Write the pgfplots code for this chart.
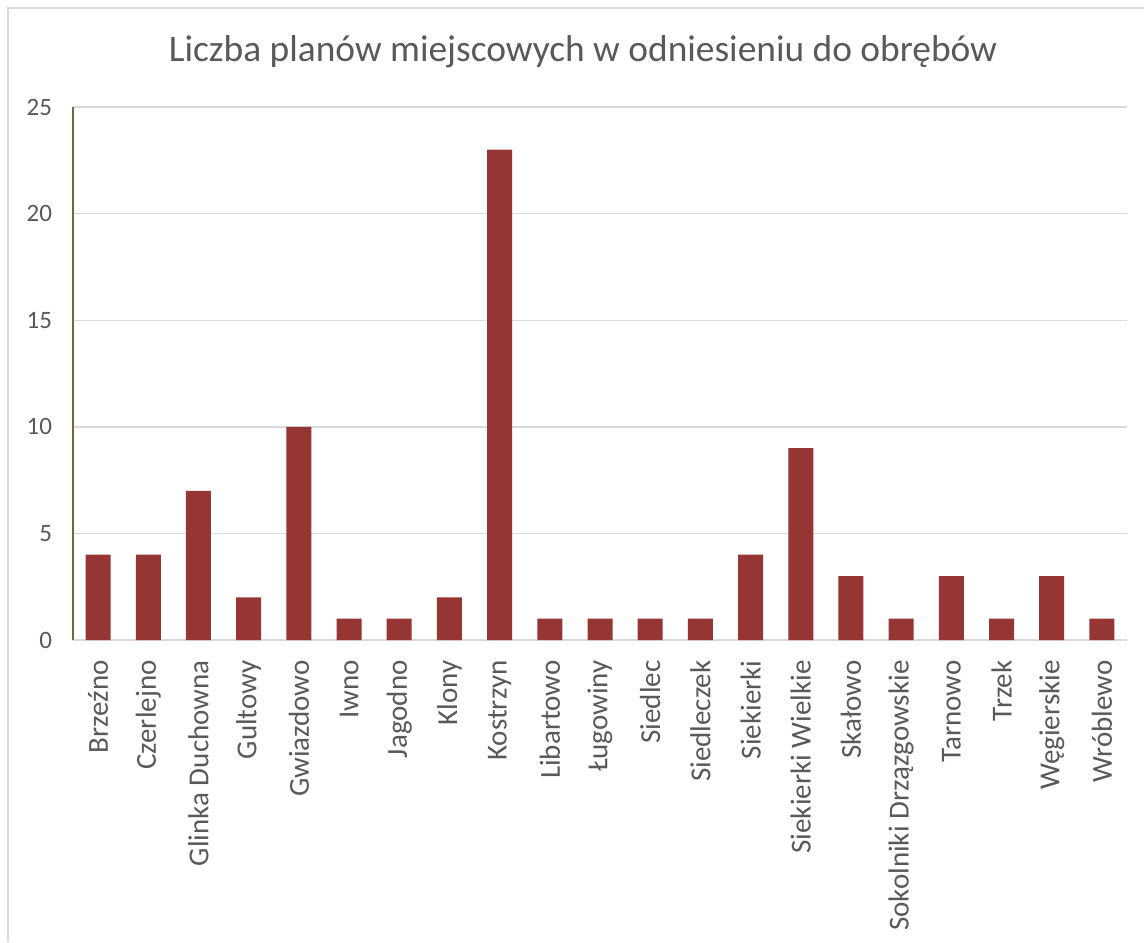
\documentclass[border=0pt]{standalone}
\usepackage{pgfplots}
\pgfplotsset{compat=1.18}
\usepackage{fontspec}
\setmainfont{Carlito}
\definecolor{barred}{RGB}{149,54,52}
\definecolor{txtgray}{RGB}{89,89,89}
\definecolor{gridgray}{RGB}{217,217,217}
\definecolor{yaxcol}{RGB}{118,100,68}
\begin{document}
\begin{tikzpicture}
\path[use as bounding box] (-36.5pt,-151pt) rectangle (535.5pt,320pt);
\draw[gridgray, line width=0.8pt] (-32.5pt,-151pt) -- (-32.5pt,316pt) -- (535.5pt,316pt);
\begin{axis}[
    at={(0pt,0pt)}, anchor=south west,
    scale only axis,
    width=527pt, height=266.5pt,
    xmin=-0.5, xmax=20.5,
    ymin=0, ymax=25,
    ytick={0,5,10,15,20,25},
    xtick=data,
    xticklabels={Brzeźno,Czerlejno,Glinka Duchowna,Gultowy,Gwiazdowo,Iwno,Jagodno,Klony,Kostrzyn,Libartowo,Ługowiny,Siedlec,Siedleczek,Siekierki,Siekierki Wielkie,Skałowo,Sokolniki Drzązgowskie,Tarnowo,Trzek,Węgierskie,Wróblewo},
    x tick label style={rotate=90, anchor=east, font=\fontsize{14.5}{16}\selectfont, text=txtgray, inner sep=0pt},
    y tick label style={font=\fontsize{12.5}{14}\selectfont, text=txtgray},
    xticklabel shift=10pt,
    yticklabel shift=7pt,
    /pgf/number format/assume math mode=true,
    major tick length=0pt,
    axis y line*=left,
    axis x line*=bottom,
    y axis line style={yaxcol, line width=0.8pt},
    x axis line style={gridgray, line width=0.9pt},
    ymajorgrids,
    grid style={gridgray, line width=0.7pt},
]
\addplot[ybar, bar width=12.5pt, fill=barred, draw=none] coordinates {
(0,4) (1,4) (2,7) (3,2) (4,10) (5,1) (6,1) (7,2) (8,23) (9,1) (10,1)
(11,1) (12,1) (13,4) (14,9) (15,3) (16,1) (17,3) (18,1) (19,3) (20,1)
};
\end{axis}
\node[text=txtgray, font=\fontsize{18.7}{22}\selectfont] at (255pt,294pt) {Liczba planów miejscowych w odniesieniu do obrębów};
\end{tikzpicture}
\end{document}
